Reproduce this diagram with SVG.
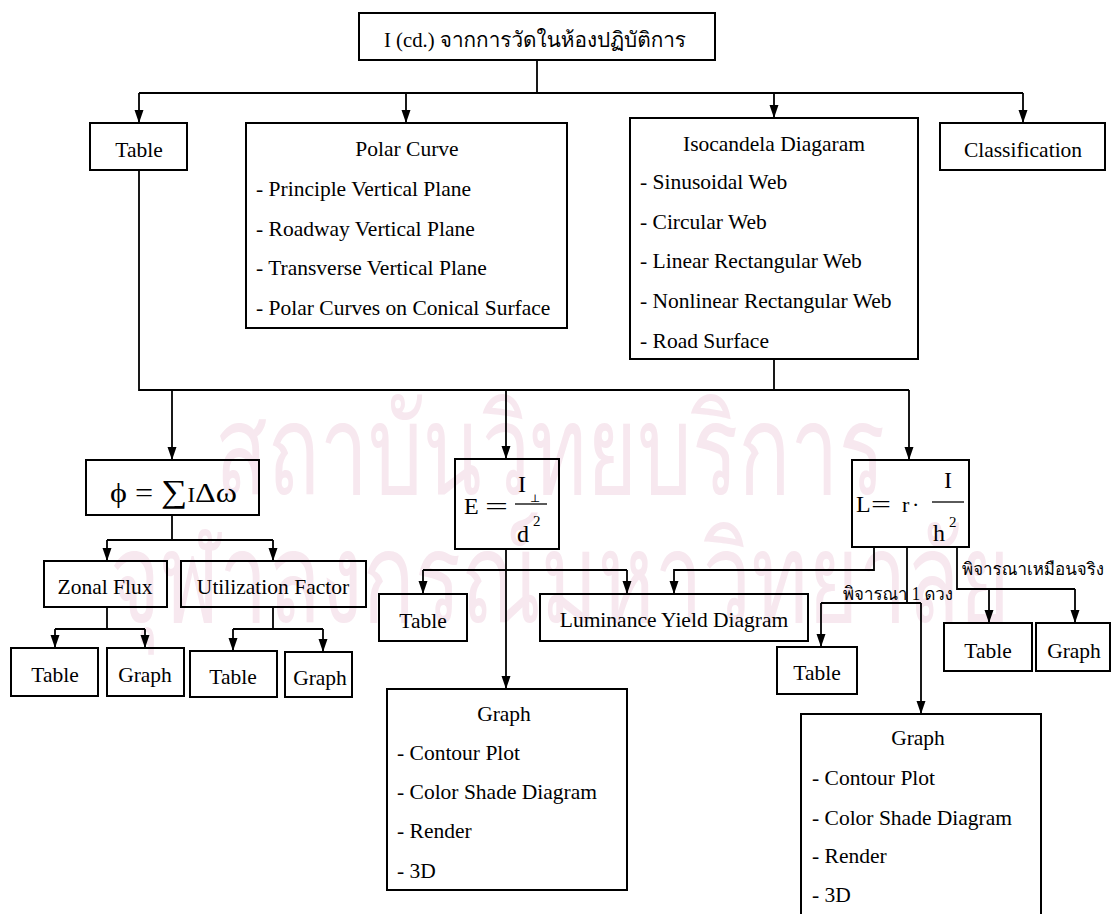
<svg xmlns="http://www.w3.org/2000/svg" width="1112" height="914" viewBox="0 0 1112 914">
<style>
.bg{fill:#ffffff}
.wm{font-family:"Garuda","Loma","Norasi","Kinnari","Noto Sans Thai","Noto Serif Thai","DejaVu Sans",sans-serif;fill:#f7e8ef}
.b{fill:none;stroke:#000;stroke-width:2}
.t{font-family:"Liberation Serif","DejaVu Serif",serif;font-size:21.5px;fill:#000}
.c{text-anchor:middle}
.th{font-family:"Liberation Serif","Norasi","Kinnari","Laksaman","Garuda","Loma","Noto Serif Thai","Noto Sans Thai",serif;fill:#000}
.m{font-family:"Liberation Serif","DejaVu Serif",serif;fill:#000}
.ln{fill:none;stroke:#000;stroke-width:1.8}
.ar{fill:none;stroke:#000;stroke-width:1.8;marker-end:url(#ah)}
.fb{stroke:#000;stroke-width:1.3}
</style>
<defs>
<marker id="ah" markerWidth="13" markerHeight="10" refX="13" refY="5" orient="auto" markerUnits="userSpaceOnUse">
<path d="M0,0.5 L13,5 L0,9.5 z" fill="#000"/>
</marker>
</defs>
<rect class="bg" x="0" y="0" width="1112" height="914"/>
<g id="watermark">
<text class="wm" x="215" y="494" font-size="125" textLength="670" lengthAdjust="spacingAndGlyphs">สถาบันวิทยบริการ</text>
<text class="wm" x="110" y="622" font-size="125" textLength="900" lengthAdjust="spacingAndGlyphs">จุฬาลงกรณ์มหาวิทยาลัย</text>
</g>
<g id="connectors">
<path class="ln" d="M537,60 V93 M139,93 H1023"/>
<path class="ar" d="M139,93 V123"/>
<path class="ar" d="M406,93 V123"/>
<path class="ar" d="M774,93 V118"/>
<path class="ar" d="M1023,93 V123"/>
<path class="ln" d="M139,170 V390 H909 M774,359 V390"/>
<path class="ar" d="M172,390 V460"/>
<path class="ar" d="M506,390 V459"/>
<path class="ar" d="M909,390 V460"/>
<path class="ln" d="M172,515 V540 M107,540 H273"/>
<path class="ar" d="M107,540 V561"/>
<path class="ar" d="M273,540 V561"/>
<path class="ln" d="M107,607 V629 M55,629 H145"/>
<path class="ar" d="M55,629 V648"/>
<path class="ar" d="M145,629 V648"/>
<path class="ln" d="M273,607 V629 M233,629 H323"/>
<path class="ar" d="M233,629 V651"/>
<path class="ar" d="M323,629 V652"/>
<path class="ar" d="M506,549 V689"/>
<path class="ln" d="M423,570 H627"/>
<path class="ar" d="M423,570 V594"/>
<path class="ar" d="M627,570 V594"/>
<path class="ar" d="M874,547 V570 H674 V594"/>
<path class="ln" d="M907,547 V603 M821,603 H921"/>
<path class="ar" d="M821,603 V647"/>
<path class="ar" d="M921,603 V714"/>
<path class="ln" d="M957,547 V589 H1075"/>
<path class="ar" d="M989,589 V623"/>
<path class="ar" d="M1075,589 V623"/>
</g>
<g id="n-top">
<rect class="b" x="359" y="13" width="356" height="47"/>
<text class="th" x="384" y="47" font-size="21" textLength="302" lengthAdjust="spacingAndGlyphs">I (cd.) จากการวัดในห้องปฏิบัติการ</text>
</g>
<g id="n-table1">
<rect class="b" x="90" y="123" width="97" height="47"/>
<text class="t c" x="139" y="157">Table</text>
</g>
<g id="n-polar">
<rect class="b" x="246" y="123" width="321" height="205"/>
<text class="t c" x="407" y="156">Polar Curve</text>
<text class="t" x="256" y="196">- Principle Vertical Plane</text>
<text class="t" x="256" y="235.5">- Roadway Vertical Plane</text>
<text class="t" x="256" y="275">- Transverse Vertical Plane</text>
<text class="t" x="256" y="314.5">- Polar Curves on Conical Surface</text>
</g>
<g id="n-iso">
<rect class="b" x="630" y="118" width="288" height="241"/>
<text class="t c" x="774" y="151">Isocandela Diagaram</text>
<text class="t" x="640" y="189">- Sinusoidal Web</text>
<text class="t" x="640" y="229">- Circular Web</text>
<text class="t" x="640" y="268">- Linear Rectangular Web</text>
<text class="t" x="640" y="308">- Nonlinear Rectangular Web</text>
<text class="t" x="640" y="348">- Road Surface</text>
</g>
<g id="n-class">
<rect class="b" x="940" y="123" width="165" height="47"/>
<text class="t c" x="1023" y="157">Classification</text>
</g>
<g id="n-phi">
<rect class="b" x="86" y="460" width="173" height="55"/>
<text class="m" x="110" y="502" font-size="28" textLength="127" lengthAdjust="spacingAndGlyphs">ϕ = <tspan font-size="32">∑</tspan><tspan font-size="20">I</tspan>Δω</text>
</g>
<g id="n-E">
<rect class="b" x="455" y="459" width="104" height="90"/>
<text class="m" x="464" y="514" font-size="24">E</text>
<text class="m" x="485" y="515" font-size="26" textLength="23" lengthAdjust="spacingAndGlyphs">=</text>
<line class="fb" x1="515" y1="504" x2="547" y2="504"/>
<text class="m" x="518" y="492" font-size="24">I</text>
<text class="m" x="530" y="502" font-size="11">⊥</text>
<text class="m" x="517" y="542" font-size="24">d</text>
<text class="m" x="533" y="526" font-size="15">2</text>
</g>
<g id="n-L">
<rect class="b" x="852" y="460" width="117" height="87"/>
<text class="m" x="856" y="512" font-size="24">L</text>
<text class="m" x="871" y="513" font-size="26" textLength="20" lengthAdjust="spacingAndGlyphs">=</text>
<text class="m" x="902" y="512" font-size="22">r</text>
<text class="m" x="912" y="512" font-size="22">·</text>
<line class="fb" x1="932" y1="502" x2="964" y2="502"/>
<text class="m" x="944" y="488" font-size="24">I</text>
<text class="m" x="933" y="541" font-size="24">h</text>
<text class="m" x="949" y="527" font-size="15">2</text>
</g>
<g id="n-zonal">
<rect class="b" x="44" y="561" width="123" height="46"/>
<text class="t c" x="105" y="594">Zonal Flux</text>
</g>
<g id="n-util">
<rect class="b" x="181" y="561" width="185" height="46"/>
<text class="t c" x="273" y="594">Utilization Factor</text>
</g>
<g id="n-table-a">
<rect class="b" x="11" y="648" width="87" height="48"/>
<text class="t c" x="55" y="682">Table</text>
</g>
<g id="n-graph-a">
<rect class="b" x="107" y="648" width="77" height="48"/>
<text class="t c" x="145" y="682">Graph</text>
</g>
<g id="n-table-b">
<rect class="b" x="190" y="651" width="87" height="46"/>
<text class="t c" x="233" y="684">Table</text>
</g>
<g id="n-graph-b">
<rect class="b" x="285" y="652" width="67" height="45"/>
<text class="t c" x="320" y="685">Graph</text>
</g>
<g id="n-table-e">
<rect class="b" x="379" y="594" width="88" height="47"/>
<text class="t c" x="423" y="628">Table</text>
</g>
<g id="n-lum">
<rect class="b" x="540" y="594" width="268" height="47"/>
<text class="t c" x="674" y="627">Luminance Yield Diagram</text>
</g>
<g id="n-graph-e">
<rect class="b" x="387" y="689" width="240" height="201"/>
<text class="t c" x="504" y="721">Graph</text>
<text class="t" x="397" y="760">- Contour Plot</text>
<text class="t" x="397" y="799">- Color Shade Diagram</text>
<text class="t" x="397" y="838">- Render</text>
<text class="t" x="397" y="878">- 3D</text>
</g>
<g id="lbl-one">
<text class="th" x="843" y="600" font-size="18" textLength="110" lengthAdjust="spacingAndGlyphs">พิจารณา 1 ดวง</text>
</g>
<g id="lbl-real">
<text class="th" x="962" y="575" font-size="17" textLength="142" lengthAdjust="spacingAndGlyphs">พิจารณาเหมือนจริง</text>
</g>
<g id="n-table-l1">
<rect class="b" x="777" y="647" width="80" height="47"/>
<text class="t c" x="817" y="680">Table</text>
</g>
<g id="n-table-l2">
<rect class="b" x="944" y="623" width="88" height="48"/>
<text class="t c" x="988" y="658">Table</text>
</g>
<g id="n-graph-l2">
<rect class="b" x="1036" y="623" width="74" height="48"/>
<text class="t c" x="1074" y="658">Graph</text>
</g>
<g id="n-graph-l">
<rect class="b" x="801" y="714" width="240" height="215"/>
<text class="t c" x="918" y="745">Graph</text>
<text class="t" x="812" y="785">- Contour Plot</text>
<text class="t" x="812" y="825">- Color Shade Diagram</text>
<text class="t" x="812" y="863">- Render</text>
<text class="t" x="812" y="902">- 3D</text>
</g>
</svg>
